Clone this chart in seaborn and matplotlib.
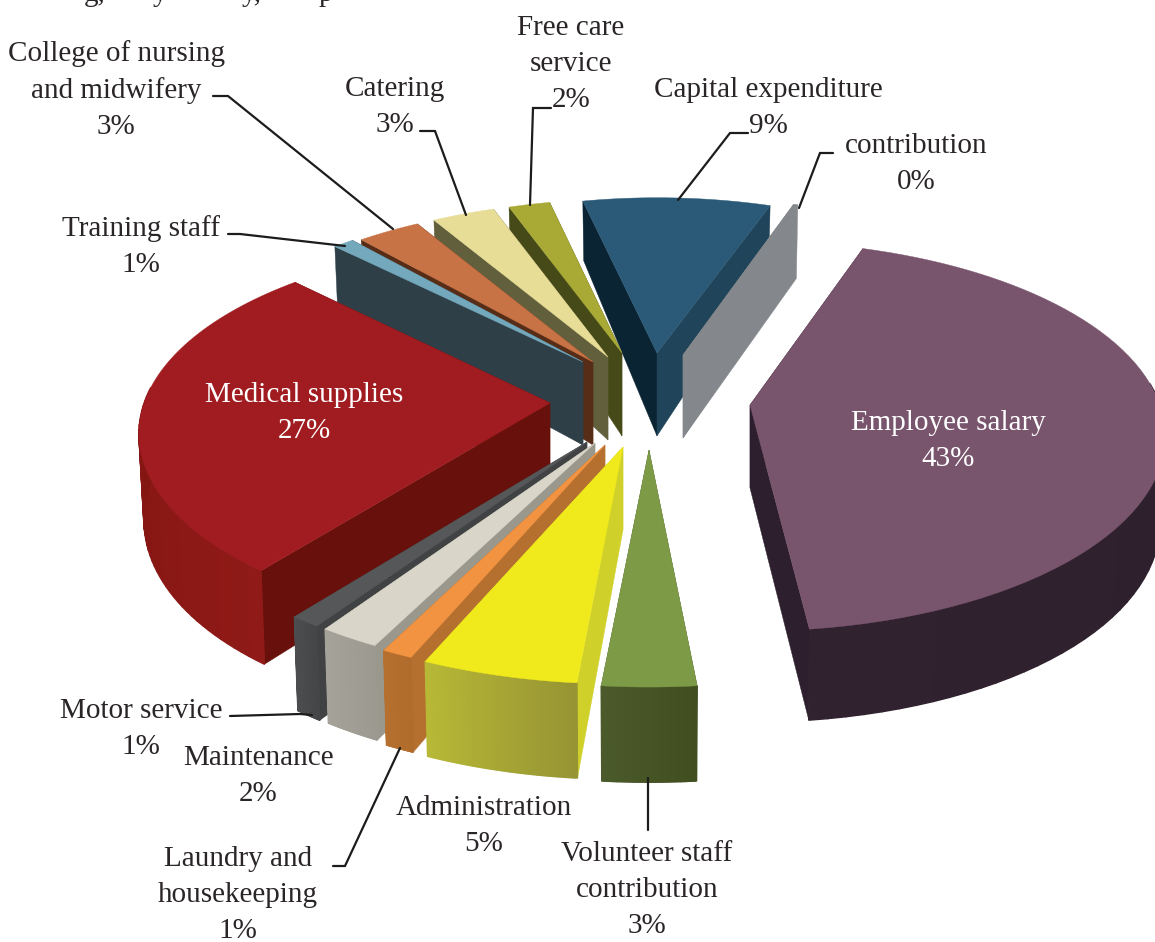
import numpy as np
import matplotlib
matplotlib.use("Agg")
import matplotlib.pyplot as plt
import seaborn as sns

# ---- data ----
categories = ["Employee salary", "Volunteer staff contribution", "Administration",
              "Laundry and housekeeping", "Maintenance", "Motor service",
              "Medical supplies", "Training staff", "College of nursing and midwifery",
              "Catering", "Free care service", "Capital expenditure", "contribution"]
values = [43, 3, 5, 1, 2, 1, 27, 1, 3, 3, 2, 9, 0.2]
shown = ["43%", "3%", "5%", "1%", "2%", "1%", "27%", "1%", "3%", "3%", "2%", "9%", "0%"]

# ---- styles ----
top_col = ["#79546d", "#7d9a46", "#f0e91c", "#f29341", "#d9d5c9", "#555758", "#a01c20",
           "#74a8bc", "#c77345", "#e8dd97", "#a9aa36", "#2b5a78", "#84888c"]
wall_a = ["#2b1d2a", "#414f20", "#969433", "#b06c2c", "#9c9a90", "#434546", "#8f1a17",
          "#2f3f48", "#572d17", "#62603c", "#454a18", "#0a2433", "#84888c"]
wall_b = ["#30222f", "#4b5a2a", "#b7b836", "#b56f2e", "#a5a399", "#4b4d4e", "#7a120e",
          "#2f3f48", "#572d17", "#62603c", "#454a18", "#204459", "#84888c"]
face_l = ["#2e1f2e", "#47572a", "#cfd12a", "#b56f2e", "#9a988c", "#404243", "#68100b",
          "#2f3f48", "#572d17", "#62603c", "#454a18", "#0a2433", "#84888c"]
face_r = ["#2e1f2e", "#47572a", "#cfd12a", "#b56f2e", "#9a988c", "#404243", "#68100b",
          "#2f3f48", "#572d17", "#62603c", "#454a18", "#204459", "#84888c"]
apex_x = [750, 649, 623, 605, 595, 587, 550, 583, 593, 608, 622, 657, 683]
apex_y = [405, 450, 447, 445, 443, 442, 403, 362, 362, 357, 353, 353, 355]
turn_deg = [-2, -0.4, -0.6, -0.8, -0.6, -0.3, 0.5, 0, 0, 0, 0, -0.2, -1]
reach = [1, 1.04, 1.04, 1.03, 1.02, 1.015, 0.99, 0.95, 0.955, 0.945, 0.93, 0.94, 0.96]
lift = [4, 0, 0, 0, 0, 0, 0, 0, 0, 0, 0, 0, 15]
draw_order = [11, 12, 10, 9, 8, 7, 6, 5, 4, 3, 2, 1, 0]

START_DEG = 20.5
RX, RY, PERSP = 410.0, 190.0, 0.16

sns.set_theme(style="white")
plt.rcParams["font.family"] = ["Liberation Serif", "DejaVu Serif"]

fig = plt.figure(figsize=(11.55, 9.42), dpi=100)
ax = fig.add_axes([0, 0, 1, 1])
ax.set_xlim(0, 1155)
ax.set_ylim(942, 0)
ax.axis("off")


def project(theta, r, ax0, ay0, extra=0.0):
    """Top-face point and its bottom-face point for a polar position on the pie."""
    X, Y = r * np.sin(theta), -r * np.cos(theta)
    s = 1.0 / (1.0 - PERSP * Y)
    tx = ax0 + RX * X * s
    ty = ay0 + RY * Y * s
    depth = 83 + 19 * Y - 7 * Y ** 2 - extra * Y
    return tx, ty, tx - 0.012 * RX * X * s, ty + depth


fracs = np.array(values, float) / np.sum(values)
edges = START_DEG + 360 * np.concatenate([[0], np.cumsum(fracs)])

for i in draw_order:
    th = np.radians(np.linspace(edges[i], edges[i + 1], 70) + turn_deg[i])
    tx, ty, bx, by = project(th, reach[i], apex_x[i], apex_y[i], lift[i])
    x0, y0, bx0, by0 = project(th[:1], 0.0, apex_x[i], apex_y[i])
    x0, y0, bx0, by0 = x0[0], y0[0], bx0[0], by0[0]
    # radial faces
    ax.fill([x0, tx[0], bx[0], bx0], [y0, ty[0], by[0], by0], color=face_l[i], lw=0.3)
    ax.fill([x0, tx[-1], bx[-1], bx0], [y0, ty[-1], by[-1], by0], color=face_r[i], lw=0.3)
    # outer wall, with the shading changing along the arc
    shade = sns.blend_palette([wall_a[i], wall_b[i]], len(th) - 1)
    for k in range(len(th) - 1):
        if -np.cos(th[k]) > -0.08 or -np.cos(th[k + 1]) > -0.08:
            ax.fill([tx[k], tx[k + 1], bx[k + 1], bx[k]],
                    [ty[k], ty[k + 1], by[k + 1], by[k]], color=shade[k], lw=1.0)
    # top face
    ax.fill(np.r_[x0, tx], np.r_[y0, ty], color=top_col[i], lw=0.3)

# ---- leader lines ----
leaders = [([213, 228, 393], [96, 96, 229]),
           ([420, 435, 466], [131, 131, 215]),
           ([551, 533, 530], [108, 108, 205]),
           ([748, 730, 678], [133, 133, 200]),
           ([833, 820, 799], [153, 153, 208]),
           ([228, 240, 345], [234, 234, 246]),
           ([230, 300, 312], [716, 714, 715]),
           ([333, 345, 400], [866, 866, 748]),
           ([648, 648], [778, 830])]
for lx, ly in leaders:
    ax.plot(lx, ly, color="#1c1c1c", lw=1.6, solid_joinstyle="miter")

# ---- labels ----
FS = 21
ink = "#2a2526"
def label(x, y, txt, col=ink):
    ax.text(x, y + 3, txt, ha="center", va="center", fontsize=FS, color=col,
            linespacing=1.5, clip_on=True)

label(948, 438, f"{categories[0]}\n{shown[0]}", "white")
label(647, 887, f"Volunteer staff\ncontribution\n{shown[1]}")
label(484, 823, f"{categories[2]}\n{shown[2]}")
label(238, 892, f"Laundry and\nhousekeeping\n{shown[3]}")
label(258, 773, f"{categories[4]}\n{shown[4]}")
label(141, 726, f"{categories[5]}\n{shown[5]}")
label(304, 410, f"{categories[6]}\n{shown[6]}", "white")
label(141, 244, f"{categories[7]}\n{shown[7]}")
label(116, 87, f"College of nursing\nand midwifery\n{shown[8]}")
label(395, 104, f"{categories[9]}\n{shown[9]}")
label(571, 61, f"Free care\nservice\n{shown[10]}")
label(768, 105, f"{categories[11]}\n{shown[11]}")
label(916, 161, f"{categories[12]}\n{shown[12]}")

# fragments of the text line cut off by the top edge of the picture
for fx, frag in [(95, "g,"), (160, "y"), (252, "y,"), (326, "p")]:
    ax.text(fx, 1, frag, ha="center", va="baseline", fontsize=FS, color=ink)

fig.savefig("out.png", dpi=100, facecolor="white")
